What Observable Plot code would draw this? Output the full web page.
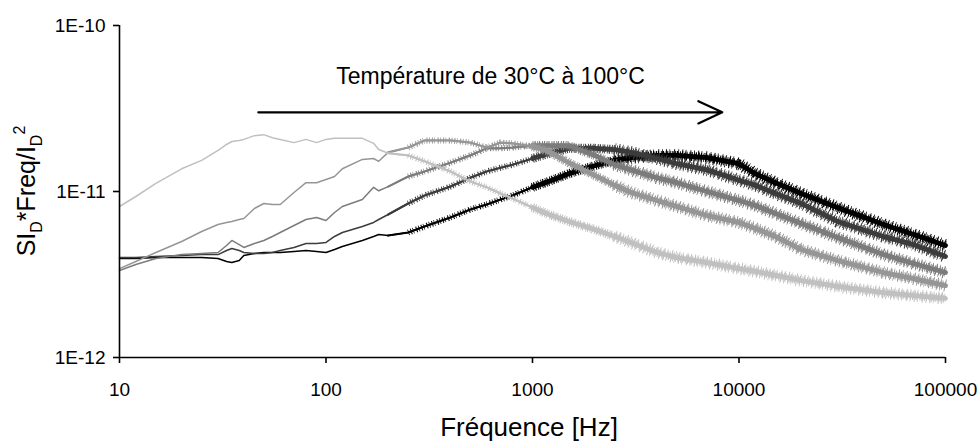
<!DOCTYPE html>
<html>
<head>
<meta charset="utf-8">
<script src="https://cdn.jsdelivr.net/npm/d3@7"></script>
<script src="https://cdn.jsdelivr.net/npm/@observablehq/plot@0.6"></script>
<style>
  html, body { margin: 0; padding: 0; background: #fff; }
  #chart svg { display: block; }
</style>
</head>
<body>
<div id="chart"></div>
<script>
// Frequencies (Hz) at which the curves were read
const freq = [10,12,15,20,25,30,33,35,38,40,45,50,55,60,70,80,90,100,110,120,150,170,180,200,250,300,400,500,600,700,800,1000,1200,1500,2000,2500,3000,4000,5000,7000,10000,12000,15000,20000,30000,50000,70000,100000];

// SI_D*Freq/I_D^2, lowest temperature (30°C) -> highest (100°C)
const curve1 = [8.12e-12,9.33e-12,1.12e-11,1.37e-11,1.54e-11,1.77e-11,1.92e-11,2.00e-11,2.03e-11,2.06e-11,2.17e-11,2.20e-11,2.11e-11,2.06e-11,1.97e-11,2.06e-11,1.97e-11,2.06e-11,2.09e-11,2.09e-11,2.09e-11,1.95e-11,1.79e-11,1.70e-11,1.65e-11,1.52e-11,1.32e-11,1.15e-11,1.06e-11,9.73e-12,9.07e-12,8.01e-12,7.27e-12,6.60e-12,5.90e-12,5.36e-12,4.93e-12,4.29e-12,4.00e-12,3.73e-12,3.43e-12,3.30e-12,3.12e-12,2.91e-12,2.68e-12,2.46e-12,2.36e-12,2.27e-12];
const curve2 = [3.43e-12,3.79e-12,4.29e-12,5.00e-12,5.74e-12,6.33e-12,6.51e-12,6.60e-12,6.78e-12,6.88e-12,7.90e-12,8.47e-12,8.35e-12,8.35e-12,9.86e-12,1.13e-11,1.13e-11,1.18e-11,1.23e-11,1.37e-11,1.56e-11,1.58e-11,1.52e-11,1.72e-11,1.84e-11,2.03e-11,2.03e-11,1.97e-11,1.84e-11,1.97e-11,1.95e-11,1.87e-11,1.74e-11,1.49e-11,1.25e-11,1.09e-11,9.86e-12,8.83e-12,8.12e-12,7.17e-12,6.51e-12,5.99e-12,5.36e-12,4.47e-12,3.84e-12,3.25e-12,2.99e-12,2.71e-12];
const curve3 = [3.34e-12,3.63e-12,3.95e-12,4.17e-12,4.23e-12,4.29e-12,4.73e-12,5.07e-12,4.79e-12,4.60e-12,4.86e-12,5.07e-12,5.36e-12,5.66e-12,6.24e-12,6.78e-12,6.97e-12,6.69e-12,7.47e-12,8.12e-12,8.95e-12,1.06e-11,1.01e-11,1.07e-11,1.23e-11,1.32e-11,1.49e-11,1.65e-11,1.82e-11,1.82e-11,1.84e-11,1.89e-11,1.89e-11,1.89e-11,1.65e-11,1.45e-11,1.35e-11,1.21e-11,1.13e-11,1.00e-11,8.83e-12,8.24e-12,7.37e-12,6.42e-12,5.28e-12,4.17e-12,3.68e-12,3.25e-12];
const curve4 = [4.00e-12,4.00e-12,4.06e-12,4.12e-12,4.17e-12,4.17e-12,4.41e-12,4.54e-12,4.41e-12,4.29e-12,4.23e-12,4.23e-12,4.29e-12,4.41e-12,4.60e-12,4.86e-12,4.86e-12,4.93e-12,5.36e-12,5.66e-12,6.15e-12,6.51e-12,6.78e-12,7.27e-12,8.47e-12,9.46e-12,1.07e-11,1.21e-11,1.32e-11,1.39e-11,1.45e-11,1.58e-11,1.70e-11,1.82e-11,1.82e-11,1.79e-11,1.72e-11,1.58e-11,1.47e-11,1.35e-11,1.17e-11,1.09e-11,9.73e-12,8.47e-12,6.60e-12,5.36e-12,4.79e-12,4.06e-12];
const curve5 = [3.95e-12,3.95e-12,4.00e-12,4.00e-12,4.00e-12,3.95e-12,3.79e-12,3.73e-12,3.84e-12,4.12e-12,4.23e-12,4.29e-12,4.29e-12,4.29e-12,4.35e-12,4.41e-12,4.35e-12,4.29e-12,4.47e-12,4.66e-12,5.07e-12,5.36e-12,5.51e-12,5.43e-12,5.66e-12,6.15e-12,6.97e-12,7.79e-12,8.35e-12,8.95e-12,9.46e-12,1.06e-11,1.15e-11,1.28e-11,1.43e-11,1.54e-11,1.60e-11,1.65e-11,1.65e-11,1.60e-11,1.47e-11,1.28e-11,1.13e-11,9.73e-12,8.01e-12,6.33e-12,5.51e-12,4.73e-12];

const seriesValues = [curve1, curve2, curve3, curve4, curve5];
const seriesColors = ["#c0c0c0", "#969696", "#7c7c7c", "#3c3c3c", "#000000"];

const xTicks = [10, 100, 1000, 10000, 100000];
const xTickLabels = ["10", "100", "1000", "10000", "100000"];
const yTicks = [1e-12, 1e-11, 1e-10];
const yTickLabels = ["1E-12", "1E-11", "1E-10"];

const arrowFreq = [47, 8300];
const arrowLevel = 3.0e-11;
const annotationText = "Température de 30°C à 100°C";
const annotationFreq = 626;
const annotationLevel = 4.9e-11;

const xTitle = "Fréquence [Hz]";

const FONT = "'Liberation Sans', Arial, Helvetica, sans-serif";

function labelFor(ticks, labels) {
  return d => {
    const k = ticks.findIndex(t => Math.abs(Math.log10(t) - Math.log10(d)) < 1e-6);
    return k < 0 ? "" : labels[k];
  };
}

const marks = [];
for (let i = seriesValues.length - 1; i >= 0; i--) {
  const rows = freq.map((f, j) => ({f, v: seriesValues[i][j]}));
  const col = seriesColors[i];
  const base = {x: "f", y: "v", stroke: col};
  marks.push(Plot.line(rows, {...base, strokeWidth: 1.5}));
  marks.push(Plot.line(rows.filter(d => d.f >= 200), {...base, strokeWidth: 2.2}));
  marks.push(Plot.line(rows.filter(d => d.f >= 250), {...base, strokeWidth: 6, strokeLinecap: "butt", strokeDasharray: "0.8 2 1 1.4 0.7 2.6 1.1 1.6"}));
  marks.push(Plot.line(rows.filter(d => d.f >= 900), {...base, strokeWidth: 4.8}));
  marks.push(Plot.line(rows.filter(d => d.f >= 900), {...base, strokeWidth: 9, strokeLinecap: "butt", strokeDasharray: "0.9 1.1 1.2 1.6 0.8 0.9 1 2"}));
  marks.push(Plot.line(rows.filter(d => d.f >= 2500), {...base, strokeWidth: 12.5, strokeLinecap: "butt", strokeDasharray: "0.8 3.2 1 2.4 0.7 4 1 2.8"}));
}

const chart = Plot.plot({
  width: 979,
  height: 444,
  marginLeft: 119,
  marginRight: 34,
  marginTop: 25,
  marginBottom: 87,
  style: {fontFamily: FONT, fontSize: "19px", color: "#000", background: "#fff"},
  x: {type: "log", domain: [10, 100000]},
  y: {type: "log", domain: [1e-12, 1e-10]},
  marks: [
    ...marks,
    Plot.ruleX([10], {stroke: "#000", strokeWidth: 1.6}),
    Plot.ruleY([1e-12], {stroke: "#000", strokeWidth: 1.6}),
    Plot.axisX({ticks: xTicks, tickFormat: labelFor(xTicks, xTickLabels), tickSize: 6, tickPadding: 19, fontSize: 19, strokeWidth: 1.6, label: null}),
    Plot.axisY({ticks: yTicks, tickFormat: labelFor(yTicks, yTickLabels), tickSize: 6, tickPadding: 8, fontSize: 19, strokeWidth: 1.6, label: null}),
    Plot.arrow([{x1: arrowFreq[0], x2: arrowFreq[1], y1: arrowLevel, y2: arrowLevel}],
      {x1: "x1", x2: "x2", y1: "y1", y2: "y2", stroke: "#000", strokeWidth: 2.2, headLength: 18, headAngle: 50}),
    Plot.text([annotationText], {x: () => annotationFreq, y: () => annotationLevel, text: d => d, fontSize: 23, textAnchor: "middle", lineAnchor: "middle", fill: "#000"})
  ]
});

document.getElementById("chart").appendChild(chart);

const svg = d3.select(chart);
// y-axis title with subscripts / superscript
const yt = svg.append("text")
  .attr("transform", "translate(35,191) rotate(-90)")
  .attr("text-anchor", "middle")
  .attr("font-family", FONT)
  .attr("font-size", 25)
  .attr("fill", "#000");
yt.append("tspan").text("SI");
yt.append("tspan").attr("dy", 7).attr("font-size", 16).text("D");
yt.append("tspan").attr("dy", -7).text("*Freq/I");
yt.append("tspan").attr("dy", 7).attr("font-size", 16).text("D");
yt.append("tspan").attr("dy", -17).attr("font-size", 16).text("2");

// x-axis title
svg.append("text")
  .attr("x", 529)
  .attr("y", 436)
  .attr("text-anchor", "middle")
  .attr("font-family", FONT)
  .attr("font-size", 26)
  .attr("fill", "#000")
  .text(xTitle);
</script>
</body>
</html>
